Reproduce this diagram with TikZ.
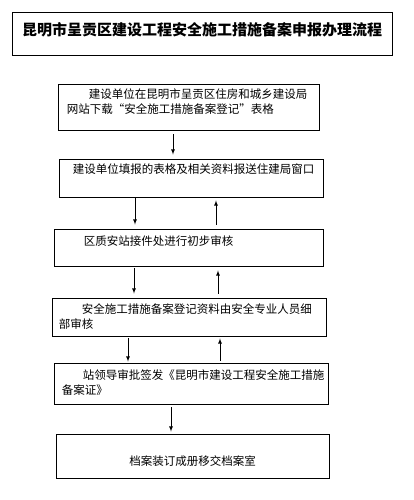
\documentclass[tikz,border=0pt]{standalone}
\usepackage{fontspec}
\setmainfont{Noto Sans CJK SC}
\usetikzlibrary{arrows,positioning}
\tikzset{stagebox/.style={rectangle,draw=black,line width=0.9pt,inner sep=0pt},
  stagetext/.style={anchor=north west,inner sep=0pt,align=left,
    font=\fontsize{11.5}{15}\selectfont},
  flow/.style={->,>=latex,line width=0.8pt}}

\begin{document}
\begin{tikzpicture}[x=1pt,y=-1pt]
\useasboundingbox (0,0) rectangle (414,500);
% \draw[help lines] (0,0) grid (414,500);
\node (b0) [stagebox,line width=0.7pt,minimum width=380pt,minimum height=43pt] at (202,33.5) {};
\node (t0) [font=\fontsize{15}{18}\selectfont\bfseries] at ([yshift=4pt]b0.center) {昆明市呈贡区建设工程安全施工措施备案申报办理流程};
%
\node (b1) [stagebox,minimum width=261pt,minimum height=46pt] at (188.5,107) {};
\node (b2) [stagebox,minimum width=264pt,minimum height=38pt] at (191,178) {};
\node (b3) [stagebox,minimum width=269pt,minimum height=37pt] at (188.5,247.5) {};
\node (b4) [stagebox,minimum width=274pt,minimum height=38pt] at (189,317) {};
\node (b5) [stagebox,minimum width=274pt,minimum height=41pt] at (191,383.5) {};
\node (b6) [stagebox,minimum width=273pt,minimum height=44pt] at (192.5,456) {};
%
\node (t1) [stagetext] at ([xshift=9pt,yshift=-5pt]b1.north west) {\hspace*{22pt}建设单位在昆明市呈贡区住房和城乡建设局\\网站下载“安全施工措施备案登记”表格};
\node (t2) [stagetext] at ([xshift=14pt,yshift=-5.5pt]b2.north west) {建设单位填报的表格及相关资料报送住建局窗口};
\node (t3) [stagetext] at ([xshift=30pt,yshift=-7.5pt]b3.north west) {区质安站接件处进行初步审核};
\node (t4) [stagetext] at ([xshift=7pt,yshift=-5.5pt]b4.north west) {\hspace*{23pt}安全施工措施备案登记资料由安全专业人员细\\部审核};
\node (t5) [stagetext] at ([xshift=8pt,yshift=-6.5pt]b5.north west) {\hspace*{21pt}站领导审批签发《昆明市建设工程安全施工措施\\备案证》};
\node (t6) [font=\fontsize{11.5}{15}\selectfont] at ([yshift=-5pt]b6.center) {档案装订成册移交档案室};
%
\path[flow,shorten <=4pt,shorten >=4pt] (b1.south -| 173,0) edge (b2.north -| 173,0);
\path[flow,shorten <=1pt,shorten >=4pt] (b2.south -| 135,0) edge (b3.north -| 135,0);
\path[flow,shorten <=4pt,shorten >=3pt] (b3.north -| 216,0) edge (b2.south -| 216,0);
\path[flow,shorten <=2pt,shorten >=4pt] (b3.south -| 134,0) edge (b4.north -| 134,0);
\path[flow,shorten <=4pt,shorten >=4pt] (b4.north -| 218,0) edge (b3.south -| 218,0);
\path[flow,shorten <=2pt,shorten >=1pt] (b4.south -| 128,0) edge (b5.north -| 128,0);
\path[flow,shorten <=2pt,shorten >=2pt] (b5.north -| 220,0) edge (b4.south -| 220,0);
\path[flow,shorten <=3pt,shorten >=2pt] (b5.south -| 171,0) edge (b6.north -| 171,0);
\end{tikzpicture}
\end{document}
